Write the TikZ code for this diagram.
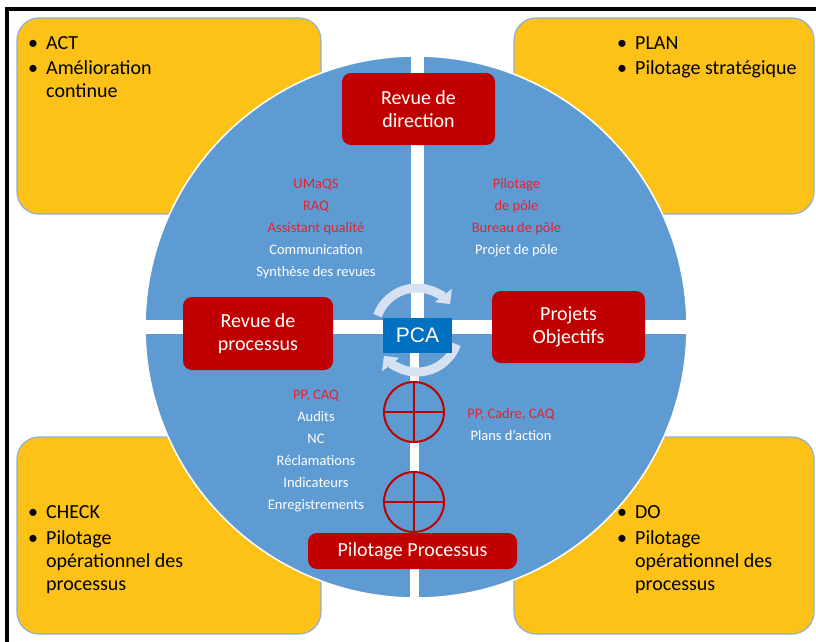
\documentclass[tikz,border=0pt]{standalone}
\usepackage{fontspec}
\setmainfont{Carlito}
\newfontfamily\pcafont{Liberation Sans}
\usetikzlibrary{calc}
\usetikzlibrary{arrows.meta}

\definecolor{pdcayellow}{RGB}{252,194,24}
\definecolor{pdcaedge}{RGB}{141,176,218}
\definecolor{wheelblue}{RGB}{95,155,211}
\definecolor{boxred}{RGB}{192,0,0}
\definecolor{txtred}{RGB}{228,34,48}
\definecolor{pcablue}{RGB}{0,112,192}
\definecolor{cyclecol}{RGB}{214,226,241}

\newcommand{\itm}{\makebox[18pt][l]{\textbullet}}
\newcommand{\ind}{\hspace*{18pt}}
\newcommand{\rl}[1]{\textcolor{txtred}{#1}}

\begin{document}
\begin{tikzpicture}[x=1pt, y=-1pt,
quad/.style={rounded corners=22pt, fill=pdcayellow, draw=pdcaedge, line width=1.2pt},
bullets/.style={anchor=north west, inner sep=0, align=left, font=\fontsize{20}{23}\selectfont},
redbox/.style={fill=boxred, rounded corners=9pt, text=white, align=center, inner sep=0, font=\fontsize{20}{23}\selectfont},
role/.style={align=center, inner sep=0, text=white, font=\fontsize{14.5}{22}\selectfont},
target/.style={circle, draw=boxred, line width=2pt, fill=wheelblue, minimum size=60pt, inner sep=0},
cycle/.style={line width=9pt, cyclecol, -{Triangle[width=21pt,length=11pt]}}
]
\useasboundingbox (0,0) rectangle (816,642);

\draw[line width=4pt] (7,642) -- (7,9) -- (816,9);

\draw[quad] (17,18) rectangle (321,214);
\draw[quad] (514,18) rectangle (814,214);
\draw[quad] (17,437) rectangle (321,634);
\draw[quad] (514,437) rectangle (814,634);

\node[bullets] (act) at (28,36) {\itm ACT\\[2pt] \itm Amélioration\\ \ind continue};
\node[bullets] (plan) at (617,36) {\itm PLAN\\[2pt] \itm Pilotage stratégique};
\node[bullets] (check) at (28,505) {\itm CHECK\\[3pt] \itm Pilotage\\ \ind opérationnel des\\ \ind processus};
\node[bullets] (do) at (617,505) {\itm DO\\[3pt] \itm Pilotage\\ \ind opérationnel des\\ \ind processus};

\coordinate (c) at (416,327);
\filldraw[fill=wheelblue, draw=white, line width=1.5pt] (c) circle (271pt);

\fill[white] (411,50) rectangle (424,327);
\fill[white] (410,327) rectangle (419,604);
\fill[white] (140,320) rectangle (692,334);

\node[role] (direction) at (316,228.5) {\rl{UMaQS}\\ \rl{RAQ}\\ \rl{Assistant qualité}\\ Communication\\ Synthèse des revues};
\node[role] (pole) at (516.5,217.5) {\rl{Pilotage}\\ \rl{de pôle}\\ \rl{Bureau de pôle}\\ Projet de pôle};
\node[role] (suivi) at (316,451) {\rl{PP, CAQ}\\ Audits\\ NC\\ Réclamations\\ Indicateurs\\ Enregistrements};
\node[role] (action) at (511,424.5) {\rl{PP, Cadre, CAQ}\\ Plans d’action};

\coordinate (ring) at (417,330);
\draw[cycle] ($(ring)+(160:42pt)$) arc[start angle=160, end angle=38, radius=42pt];
\draw[cycle] ($(ring)+(-20:42pt)$) arc[start angle=-20, end angle=-142, radius=42pt];

\node[fill=pcablue, text=white, font=\pcafont\fontsize{21}{21}\selectfont, minimum width=69pt, minimum height=35pt, inner sep=0] (pca) at (417.5,335.5) {PCA};

\foreach \i/\y in {1/412, 2/502} {
\node[target] (tgt\i) at (414,\y) {};
\draw[boxred, line width=2pt] (tgt\i.north) -- (tgt\i.south) (tgt\i.west) -- (tgt\i.east);
}

\node[redbox, minimum width=153pt, minimum height=72pt] (revdir) at (418.5,109) {Revue de\\direction};
\node[redbox, minimum width=150pt, minimum height=73pt] (revproc) at (258,333.5) {Revue de\\processus};
\node[redbox, minimum width=153pt, minimum height=72pt] (projets) at (568.5,327) {Projets\\Objectifs};
\node[redbox, minimum width=209pt, minimum height=36pt] (pilotage) at (412.5,551) {Pilotage Processus};

\end{tikzpicture}
\end{document}
